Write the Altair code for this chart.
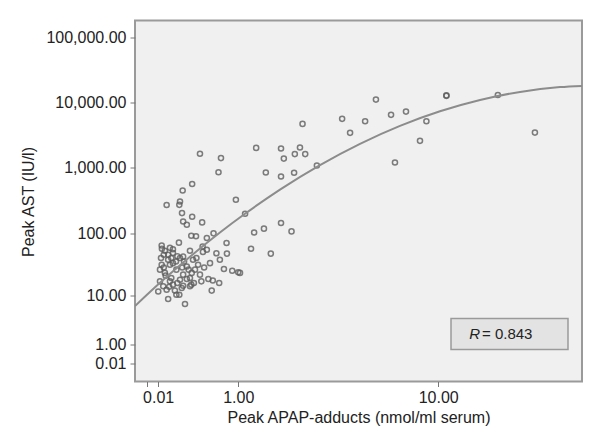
import altair as alt
import pandas as pd

# Peak APAP-adducts (nmol/ml serum)
adducts = [
    24.1, 17.3, 10.8, 10.8, 8.95, 8.42, 7.36, 6.36, 6.61, 5.47,
    4.9, 4.19, 3.85, 2.91, 2.46, 2.385, 2.54, 2.24, 1.95, 1.88,
    2.22, 1.88, 2.15, 1.88, 1.33, 1.53, 1.49, 1.29, 1.12, 1.23,
    1.64, 1.03, 0.96, 0.69, 0.726, 0.443, 0.35, 0.245, 0.086, 0.217,
    0.21, 0.238, 0.35, 0.25, 0.29, 0.47, 0.34, 0.395, 0.62, 0.53,
    0.206, 0.81, 0.041, 0.476, 0.325, 0.146, 0.043, 0.66, 0.816, 0.53,
    0.1, 0.25, 0.06, 0.48, 0.71, 0.041, 0.146, 0.42, 0.572, 0.77,
    0.9, 1.0, 0.07, 0.18, 0.25, 0.345, 0.443, 0.55, 0.61, 0.7,
    0.026, 0.117, 0.217, 0.325, 0.055, 0.146, 0.25, 0.34, 0.46, 0.011,
    0.086, 0.235, 0.325, 0.595, 0.18, 0.1, 0.21, 0.27, 0.026, 0.1,
    0.217, 0.29, 0.36, 0.146, 0.117, 0.176, 0.24, 0.077, 0.13, 0.29,
    0.19, 0.11, 0.165, 0.06, 0.31, 0.383, 0.13, 0.19, 0.26, 0.035,
    0.07, 0.117, 0.4, 0.495, 0.37,
]
# Peak AST (IU/l)
ast = [
    3480, 13100, 12700, 12900, 5200, 2600, 7290, 6500, 1213, 11120,
    5200, 3450, 5650, 1091, 4730, 2055, 1629, 1629, 1390, 1985,
    843, 740, 106, 143, 2030, 853, 117, 102, 198, 57,
    48, 23.8, 325, 858, 1415, 1648, 567, 452, 270, 306,
    272, 203, 178, 151, 134, 146, 91, 89, 99, 84,
    71, 70, 64, 62, 53, 56, 57, 48.5, 48, 55,
    46, 43, 46, 51, 38.5, 32, 34, 32, 34, 27.5,
    25.8, 24.3, 23.8, 26.8, 22.3, 23.8, 22.3, 19, 18, 16.4,
    17.4, 17.4, 18.5, 19.7, 14.5, 15.4, 14.8, 15.4, 17.4, 11.9,
    12.7, 13.6, 14.5, 12.3, 10.5, 8.9, 10.5, 7.3, 26.8, 38.5,
    41, 30, 38.5, 49, 32, 36, 29, 21.5, 19.7, 19,
    16.4, 14.2, 12.3, 29, 26.8, 26.8, 41, 43.5, 36, 41,
    53, 59, 41, 29, 16.4,
]

# fitted curve
curve_x = [-0.206, 0.026, 0.325, 0.711, 1.118, 1.855, 3.016, 4.648, 6.943, 10.17, 14.72, 21.11, 30.09, 36.51]
curve_y = [6.72, 16.5, 42.8, 101.9, 198, 466, 1107, 2342, 4413, 7375, 10975, 14590, 17280, 18020]

x_ticks = [-0.092, 0.01, 1, 10]
y_ticks = [0.01, 1, 10, 100, 1000, 10000, 100000]

pts = pd.DataFrame({"x": adducts, "y": ast})
crv = pd.DataFrame({"x": curve_x, "y": curve_y})

FONT = "Liberation Sans"

xscale = alt.Scale(type="symlog", constant=1, domain=[-0.206, 36.5], nice=False, zero=False)
yscale = alt.Scale(type="symlog", constant=1, domain=[-0.851, 180700], nice=False, zero=False)

xaxis = alt.Axis(
    title="Peak APAP-adducts (nmol/ml serum)", values=x_ticks,
    labelExpr="datum.value < 0 ? '' : format(datum.value, '.2f')",
    domain=False, grid=False, tickColor="#777", tickSize=5, tickWidth=1,
    labelFontSize=16, labelColor="#222", labelFont=FONT, labelPadding=3,
    labelOverlap=False, labelFlush=False,
    titleFontSize=16, titleFont=FONT, titleFontWeight="normal", titleColor="#222",
    titleX=223.5, titleY=36, titleBaseline="middle", titleAlign="center",
)
yaxis = alt.Axis(
    title="Peak AST (IU/l)", values=y_ticks, format=",.2f",
    domain=False, grid=False, tickColor="#777", tickSize=5, tickWidth=1,
    labelFontSize=16, labelColor="#222", labelFont=FONT, labelPadding=4,
    labelOverlap=False, labelFlush=False,
    titleFontSize=16, titleFont=FONT, titleFontWeight="normal", titleColor="#222",
    titleX=-107, titleY=181, titleBaseline="middle", titleAlign="center", titleAngle=270,
)

points = alt.Chart(pts).mark_point(
    shape="circle", filled=False, size=26, strokeWidth=1.5, color="#5e5e5e", opacity=0.8
).encode(
    x=alt.X("x:Q", scale=xscale, axis=xaxis),
    y=alt.Y("y:Q", scale=yscale, axis=yaxis),
)

curve = alt.Chart(crv).mark_line(
    color="#8c8c8c", strokeWidth=2, interpolate="monotone", clip=True
).encode(x=alt.X("x:Q", scale=xscale), y=alt.Y("y:Q", scale=yscale))

one = pd.DataFrame({"a": [0]})
box = alt.Chart(one).mark_rect(fill="#e3e3e3", stroke="#9a9a9a", strokeWidth=1.5).encode(
    x=alt.value(316), x2=alt.value(433), y=alt.value(298), y2=alt.value(329)
)
r_txt = alt.Chart(one).mark_text(
    text="R", fontStyle="italic", align="right", baseline="middle", fontSize=15, font=FONT, color="#222"
).encode(x=alt.value(345), y=alt.value(313))
v_txt = alt.Chart(one).mark_text(
    text="= 0.843", align="left", baseline="middle", fontSize=15, font=FONT, color="#222"
).encode(x=alt.value(347), y=alt.value(313))

chart = alt.layer(points, curve, box, r_txt, v_txt).properties(
    width=447, height=361,
    autosize=alt.AutoSizeParams(type="none"),
    padding={"left": 127, "top": 12.5, "right": 10, "bottom": 50},
    background="white",
).configure_view(
    fill="#f0f0f0", stroke="#9a9a9a", strokeWidth=2
)

chart.save("out.html", embed_options={"renderer": "svg", "actions": False})
